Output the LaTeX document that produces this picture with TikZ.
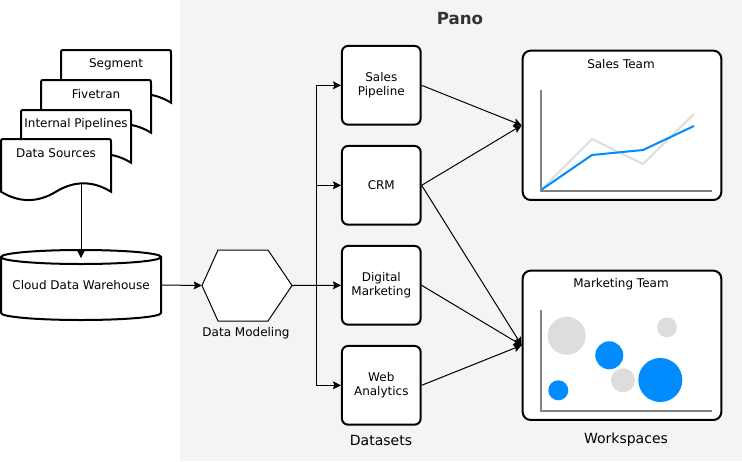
\documentclass[tikz,border=0pt]{standalone}
\usepackage{fontspec}
\setmainfont{DejaVu Sans}
\usetikzlibrary{arrows.meta,calc}
\definecolor{bgc}{HTML}{F4F4F4}
\definecolor{blu}{HTML}{008CFF}
\definecolor{lgr}{HTML}{DDDDDD}
\definecolor{axc}{HTML}{808080}
\definecolor{ttl}{HTML}{333333}
\newcommand{\rsdoc}[4]{%
 \draw[docst] ({#1},{#2+52.7}) -- ({#1},{#2+4}) .. controls ({#1},{#2}) .. ({#1+4},{#2}) -- ({#1+106},{#2}) .. controls ({#1+110},{#2}) .. ({#1+110},{#2+4}) -- ({#1+110},{#2+52.7}) .. controls ({#1+91.67},{#2+41.54}) and ({#1+73.33},{#2+41.54}) .. ({#1+55},{#2+52.7}) .. controls ({#1+36.67},{#2+63.86}) and ({#1+18.33},{#2+63.86}) .. ({#1},{#2+52.7}) -- cycle;
 \node[lbl] (#3) at ({#1+55},{#2+14}) {#4};
}
\begin{document}
\begin{tikzpicture}[x=0.75pt,y=-0.75pt,
  font=\fontsize{9}{10.5}\selectfont,
  lbl/.style={inner sep=0pt, align=center},
  docst/.style={draw=black, fill=white, line width=1.5pt},
  conn/.style={draw=black, line width=0.75pt, -{Stealth[length=6pt,width=6pt,inset=1pt]}},
  dbox/.style={draw=black, fill=white, line width=1.5pt, rounded corners=4.5pt, minimum width=59pt, minimum height=59pt, align=center, inner sep=0pt},
  wbox/.style={draw=black, fill=white, line width=1.5pt, rounded corners=6pt, minimum width=149pt, minimum height=112pt, inner sep=0pt},
  axis/.style={draw=axc, line width=1.5pt},
  big/.style={font=\fontsize{10.5}{12}\selectfont}
]
\useasboundingbox (0,0) rectangle (742,461);
\fill[bgc] (180,0) rectangle (742,461);
\node[lbl, text=ttl, font=\fontsize{12.5}{14}\selectfont\bfseries] (pano) at (460,18.5) {Pano};

% data sources stack
\rsdoc{61}{50}{seg}{Segment}
\rsdoc{41}{80}{five}{Fivetran}
\rsdoc{21}{110}{ipl}{Internal Pipelines}
\rsdoc{1}{139}{dsrc}{Data Sources}
\coordinate (dsw) at (81,183.5);

% cylinder
\fill[white] (1,257) -- (1,313) .. controls (1,316.9) and (36.8,320) .. (81,320) .. controls (125.2,320) and (161,316.9) .. (161,313) -- (161,257) -- cycle;
\draw[line width=1.5pt] (1,257) -- (1,313) .. controls (1,316.9) and (36.8,320) .. (81,320) .. controls (125.2,320) and (161,316.9) .. (161,313) -- (161,257);
\draw[line width=1.5pt, fill=white] (81,257) ellipse [x radius=80, y radius=7];
\node[lbl, minimum width=120pt, minimum height=52.5pt] (cdw) at (81,285) {Cloud Data Warehouse};
\coordinate (cdwtop) at (81,258);
\draw[conn] (dsw) -- (cdwtop);

% hexagon
\draw[line width=0.75pt, fill=white] (202,285.5) -- (218,250) -- (268,250) -- (292,285.5) -- (268,321) -- (218,321) -- cycle;
\node[lbl, minimum width=67.5pt, minimum height=53pt] (dm) at (247,285.5) {};
\node[lbl] (dmlbl) at (246,333) {Data Modeling};
\draw[conn] (cdw.east) -- (dm.west);

% datasets
\node[dbox] (sp) at (381.3,85.3) {Sales\\Pipeline};
\node[dbox] (crm) at (381.3,185.3) {CRM};
\node[dbox] (dmk) at (381.3,285.3) {Digital\\Marketing};
\node[dbox] (wa) at (381.3,385.3) {Web\\Analytics};
\node[lbl, big] (dsl) at (381,440) {Datasets};

\draw[conn] (dm.east) -- (dmk.west);
\draw[conn] (dm.east) -- ++(24,0) |- (sp.west);
\draw[conn] (dm.east) -- ++(24,0) |- (crm.west);
\draw[conn] (dm.east) -- ++(24,0) |- (wa.west);

% workspaces
\node[wbox] (ws1) at (622,125.3) {};
\node[wbox] (ws2) at (622,345.3) {};
\node[lbl] (ws1t) at (621,64) {Sales Team};
\node[lbl] (ws2t) at (621,284) {Marketing Team};
\node[lbl, big] (wsl) at (626,440) {Workspaces};

\draw[conn] (sp.east) -- (ws1.west);
\draw[conn] (crm.east) -- (ws1.west);
\draw[conn] (crm.east) -- (ws2.west);
\draw[conn] (dmk.east) -- (ws2.west);
\draw[conn] (wa.east) -- (ws2.west);

% sales chart
\draw[axis] (541,90) -- (541,190.5) -- (711.5,190.5);
\draw[lgr, line width=1.5pt, line join=round] (541,190) -- (592,139) -- (643,164) -- (694,114);
\draw[blu, line width=1.5pt, line join=round] (541,190) -- (592,155) -- (643,150) -- (694,126);

% marketing chart
\fill[lgr] (566.7,335.7) circle [radius=19];
\fill[lgr] (667,327.3) circle [radius=10];
\fill[lgr] (623,380.3) circle [radius=12];
\fill[blu] (609.3,355.3) circle [radius=14];
\fill[blu] (660.3,380) circle [radius=22];
\fill[blu] (558.3,390.3) circle [radius=10];
\draw[axis] (541,310) -- (541,410.5) -- (711.5,410.5);
\end{tikzpicture}
\end{document}
